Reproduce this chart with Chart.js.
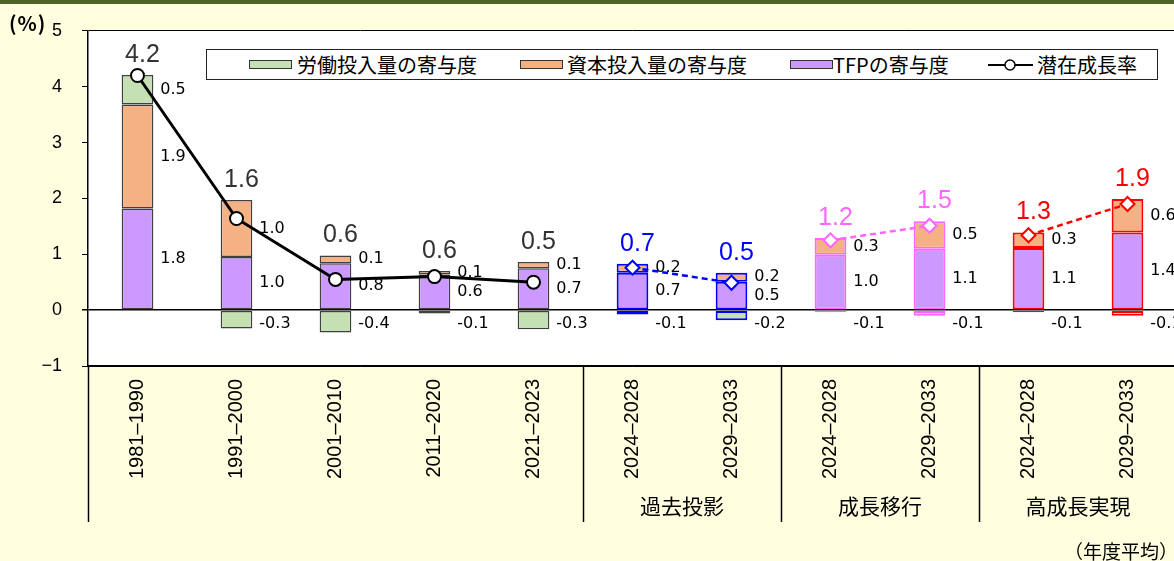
<!DOCTYPE html>
<html lang="ja">
<head>
<meta charset="utf-8">
<script src="https://cdn.jsdelivr.net/npm/chart.js@4.4.0/dist/chart.umd.min.js"></script>
<style>
  html, body { margin: 0; padding: 0; width: 1174px; height: 561px; overflow: hidden; background: #ffffe0; }
  #wrap { position: absolute; left: 0; top: 0; width: 1186px; height: 561px; }
  #band { position: absolute; left: 0; top: 0; width: 1174px; height: 4px; background: #4f6228; }
  .note { position: absolute; font-family: "Noto Sans CJK JP", sans-serif; color: #000; white-space: nowrap; }
  #legend { position: absolute; left: 206px; top: 49px; width: 950px; height: 29px; border: 1.5px solid #222; background: #fff; }
  .sw { position: absolute; top: 10px; width: 41px; height: 7px; border: 1px solid #333; }
  .lt { position: absolute; top: 0; line-height: 29px; font-size: 20px; font-family: "Noto Sans CJK JP", sans-serif; white-space: nowrap; }
</style>
</head>
<body>
<div id="wrap"><canvas id="chart" width="1186" height="561" style="width:1186px;height:561px"></canvas></div>
<div id="band"></div>
<div class="note" style="left:9px;top:8px;font-size:20px;font-weight:600;letter-spacing:1px">(%)</div>
<div class="note" style="left:1064px;top:537px;font-size:19px">（年度平均）</div>
<div id="legend">
  <span class="sw" style="left:42px;background:#C5E0B3"></span>
  <span class="lt" style="left:90px">労働投入量の寄与度</span>
  <span class="sw" style="left:313px;background:#F4B183"></span>
  <span class="lt" style="left:360px">資本投入量の寄与度</span>
  <span class="sw" style="left:583px;background:#CC99FF"></span>
  <span class="lt" style="left:626px">TFPの寄与度</span>
  <svg style="position:absolute;left:780px;top:6px" width="48" height="18">
    <line x1="1" y1="9" x2="46" y2="9" stroke="#000" stroke-width="2"/>
    <circle cx="23" cy="9" r="5" fill="#fff" stroke="#000" stroke-width="1.5"/>
  </svg>
  <span class="lt" style="left:830px">潜在成長率</span>
</div>

<script>
// categories (fiscal-year averages)
const categories = ['1981–1990', '1991–2000', '2001–2010', '2011–2020', '2021–2023',
  '2024–2028', '2029–2033', '2024–2028', '2029–2033', '2024–2028', '2029–2033'];
// which scenario each category belongs to
const scenario = ['hist', 'hist', 'hist', 'hist', 'hist', 'past', 'past', 'growth', 'growth', 'high', 'high'];
const groupNames = [
  { name: '過去投影', from: 5, to: 6 },
  { name: '成長移行', from: 7, to: 8 },
  { name: '高成長実現', from: 9, to: 10 }
];

// contributions (%pt)
const tfp = [1.82, 0.95, 0.84, 0.64, 0.75, 0.67, 0.51, 0.99, 1.10, 1.11, 1.39];
const capital = [1.86, 1.02, 0.14, 0.06, 0.11, 0.16, 0.16, 0.30, 0.49, 0.28, 0.60];
const labor = [0.53, -0.33, -0.40, -0.06, -0.34, -0.08, -0.18, -0.04, -0.10, -0.04, -0.10];
const potential = [4.2, 1.64, 0.55, 0.60, 0.50, 0.76, 0.49, 1.25, 1.51, 1.34, 1.90];

// labels as printed on the chart
const tfpLabels = ['1.8', '1.0', '0.8', '0.6', '0.7', '0.7', '0.5', '1.0', '1.1', '1.1', '1.4'];
const capitalLabels = ['1.9', '1.0', '0.1', '0.1', '0.1', '0.2', '0.2', '0.3', '0.5', '0.3', '0.6'];
const laborLabels = ['0.5', '-0.3', '-0.4', '-0.1', '-0.3', '-0.1', '-0.2', '-0.1', '-0.1', '-0.1', '-0.1'];
const potentialLabels = ['4.2', '1.6', '0.6', '0.6', '0.5', '0.7', '0.5', '1.2', '1.5', '1.3', '1.9'];

const yTicks = [-1, 0, 1, 2, 3, 4, 5];

const edgeColor = { hist: '#404040', past: '#0000FF', growth: '#FF66FF', high: '#FF0000' };
const edgeWidth = { hist: 1.5, past: 2, growth: 2, high: 2 };

function barSet(label, data, fill) {
  return {
    type: 'bar',
    label,
    data,
    backgroundColor: fill,
    borderColor: scenario.map(s => edgeColor[s]),
    borderWidth: scenario.map(s => edgeWidth[s]),
    borderSkipped: false,
    stack: 'a',
    order: 2,
    categoryPercentage: 1,
    barPercentage: 0.32
  };
}

function lineSet(s) {
  const hist = s === 'hist';
  return {
    type: 'line',
    label: s,
    data: potential.map((v, i) => scenario[i] === s ? v : null),
    borderColor: hist ? '#000' : edgeColor[s],
    borderWidth: hist ? 3 : 2.5,
    borderDash: hist ? [] : [6, 4],
    pointStyle: hist ? 'circle' : 'rectRot',
    pointRadius: hist ? 6.5 : 7,
    pointBackgroundColor: '#fff',
    pointBorderColor: hist ? '#000' : edgeColor[s],
    pointBorderWidth: 2,
    spanGaps: false,
    order: 1
  };
}

const extras = {
  id: 'extras',
  beforeDraw(chart) {
    const { ctx, chartArea: a } = chart;
    ctx.save();
    ctx.fillStyle = '#fff';
    ctx.fillRect(a.left, a.top, a.right - a.left, a.bottom - a.top);
    ctx.restore();
  },
  afterDatasetsDraw(chart) {
    const ctx = chart.ctx;
    const x = chart.scales.x, y = chart.scales.y;
    const zero = y.getPixelForValue(0);
    const texts = [tfpLabels, capitalLabels, laborLabels];
    ctx.save();
    ctx.font = '16px "DejaVu Sans"';
    ctx.fillStyle = '#000';
    ctx.textAlign = 'left';
    ctx.textBaseline = 'middle';
    [0, 1, 2].forEach(di => {
      chart.getDatasetMeta(di).data.forEach((bar, i) => {
        const p = bar.getProps(['x', 'y', 'base', 'width'], true);
        const v = chart.data.datasets[di].data[i];
        const ty = v < 0 ? zero + 14 : (p.y + p.base) / 2;
        ctx.fillText(texts[di][i], p.x + p.width / 2 + 7, ty);
      });
    });
    // potential growth figures above each stack
    ctx.font = '25px "Liberation Sans"';
    ctx.textAlign = 'center';
    potentialLabels.forEach((t, i) => {
      const top = y.getPixelForValue(tfp[i] + capital[i] + Math.max(labor[i], 0));
      ctx.fillStyle = scenario[i] === 'hist' ? '#333' : edgeColor[scenario[i]];
      ctx.fillText(t, x.getPixelForValue(i) + 5, top - 20);
    });
    ctx.restore();
  },
  afterDraw(chart) {
    const ctx = chart.ctx;
    const x = chart.scales.x;
    const a = chart.chartArea;
    const bottom = a.bottom + 156;
    ctx.save();
    ctx.strokeStyle = '#000';
    ctx.lineWidth = 1.5;
    const seps = [a.left];
    groupNames.forEach(g => seps.push((x.getPixelForValue(g.from - 1) + x.getPixelForValue(g.from)) / 2));
    seps.forEach(sx => {
      ctx.beginPath();
      ctx.moveTo(Math.round(sx) + 0.5, a.bottom);
      ctx.lineTo(Math.round(sx) + 0.5, bottom);
      ctx.stroke();
    });
    ctx.fillStyle = '#000';
    ctx.font = '21px "Noto Sans CJK JP"';
    ctx.textAlign = 'center';
    ctx.textBaseline = 'middle';
    groupNames.forEach(g => {
      const cx = (x.getPixelForValue(g.from) + x.getPixelForValue(g.to)) / 2;
      ctx.fillText(g.name, cx, a.bottom + 140);
    });
    ctx.restore();
  }
};

new Chart(document.getElementById('chart'), {
  data: {
    labels: categories,
    datasets: [
      barSet('TFPの寄与度', tfp, '#CC99FF'),
      barSet('資本投入量の寄与度', capital, '#F4B183'),
      barSet('労働投入量の寄与度', labor, '#C5E0B3'),
      lineSet('hist'),
      lineSet('past'),
      lineSet('growth'),
      lineSet('high')
    ]
  },
  options: {
    responsive: false,
    animation: false,
    devicePixelRatio: 1,
    layout: { padding: { top: 30, right: 1, bottom: 0, left: 0 } },
    plugins: { legend: { display: false }, tooltip: { enabled: false } },
    scales: {
      x: {
        stacked: true,
        grid: { drawOnChartArea: false, drawTicks: false },
        border: { color: '#000', width: 1.5 },
        ticks: {
          autoSkip: false,
          minRotation: 90,
          maxRotation: 90,
          padding: 13,
          color: '#000',
          font: { family: 'Liberation Sans', size: 20 }
        },
        afterFit: scale => { scale.height = 195; }
      },
      y: {
        stacked: true,
        min: -1,
        max: 5,
        afterBuildTicks: scale => { scale.ticks = yTicks.map(v => ({ value: v })); },
        grid: {
          color: c => (c.tick && [5, 0, -1].includes(c.tick.value)) ? '#000' : 'rgba(0,0,0,0)',
          lineWidth: c => (c.tick && c.tick.value === 0) ? 1.5 : 1,
          tickColor: '#000',
          tickLength: 6
        },
        border: { color: '#000', width: 1.5 },
        ticks: {
          padding: 20,
          color: '#000',
          font: { family: 'Liberation Sans', size: 18 },
          callback: v => v < 0 ? '−' + Math.abs(v) : String(v)
        },
        afterFit: scale => { scale.width = 88; }
      }
    }
  },
  plugins: [extras]
});
</script>
</body>
</html>
